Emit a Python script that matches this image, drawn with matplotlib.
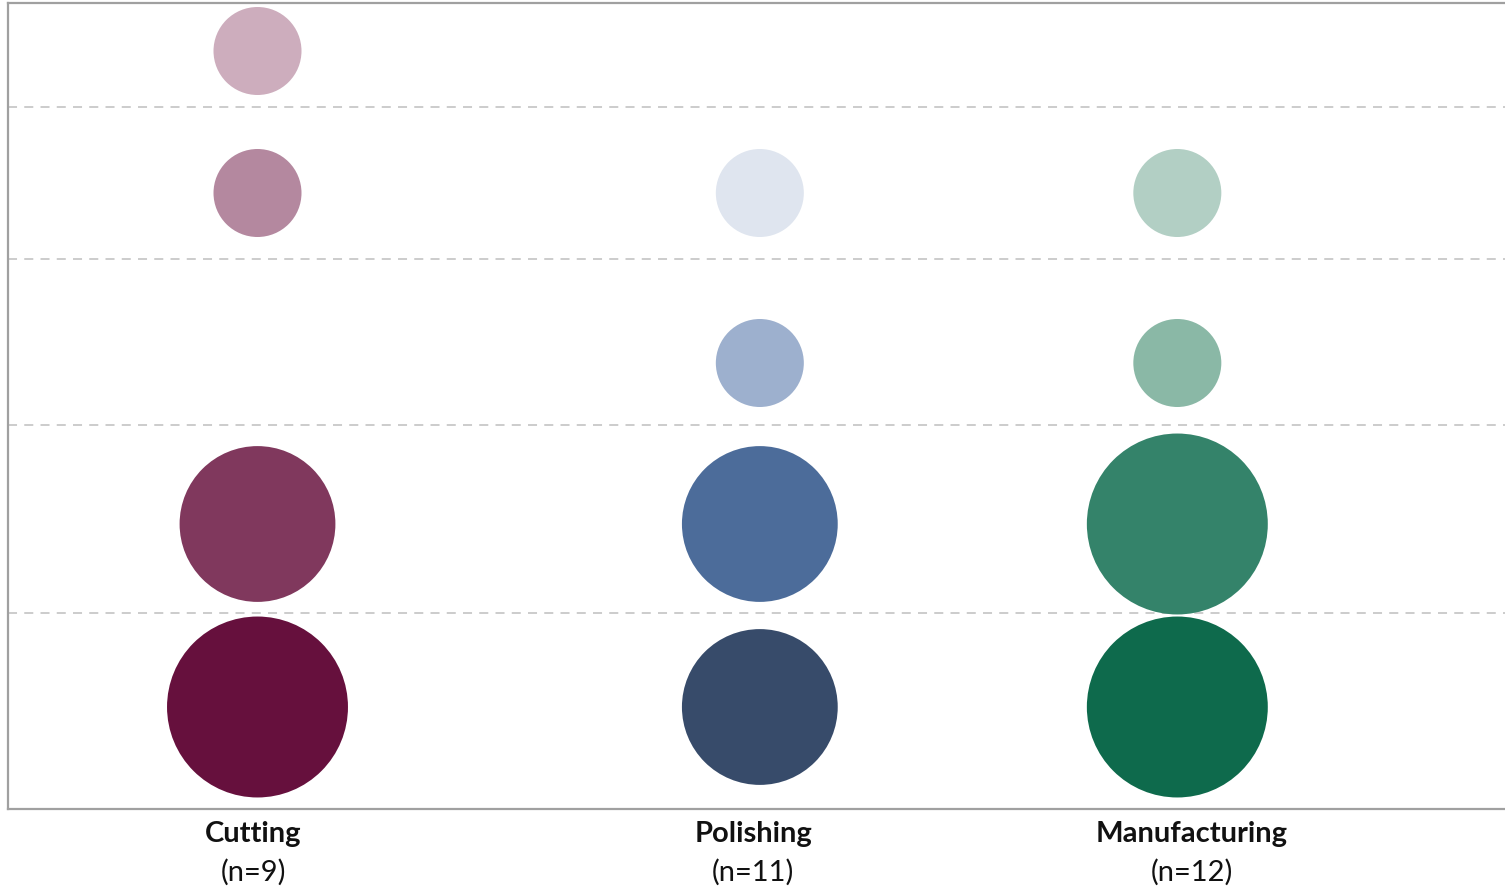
import matplotlib
matplotlib.use("Agg")
import matplotlib.pyplot as plt
import numpy as np

# Departments and their respondent counts
categories = ["Cutting", "Polishing", "Manufacturing"]
sample_sizes = [9, 11, 12]
x_positions = [1.5, 4.52, 7.03]
label_positions = [1.473, 4.479, 7.118]

# Row positions (bottom to top) and separating gridlines
row_levels = [1.02, 2.85, 4.46, 6.16, 7.58]
grid_levels = [1.96, 3.84, 5.50, 7.02]

# Bubble values per department, one per row (bottom to top); 0 = no bubble
cutting_values = [4, 3, 0, 1, 1]
polishing_values = [3, 3, 1, 1, 0]
manufacturing_values = [4, 4, 1, 1, 0]

cutting_colors = ["#66103D", "#80385D", "#A7788F", "#B4889F", "#CDADBD"]
polishing_colors = ["#374B6A", "#4C6C9A", "#9DB0CE", "#DFE5EF", "#EEF1F6"]
manufacturing_colors = ["#0E6A4C", "#34836A", "#8AB8A6", "#B2CFC4", "#D5E6DF"]

W, H, DPI = 1505, 889, 100
fig = plt.figure(figsize=(W / DPI, H / DPI), dpi=DPI)
ax = fig.add_axes([8 / W, (H - 809) / H, (W - 8) / W, 806 / H])

ax.set_xlim(0, 9)
ax.set_ylim(0, 8.06)

for g in grid_levels:
    ax.axhline(g, color="#C8C8C8", lw=1.3, dashes=(5, 4), zorder=1)

def diameter_px(v):
    return 88.0 * v ** 0.52

series = [cutting_values, polishing_values, manufacturing_values]
palettes = [cutting_colors, polishing_colors, manufacturing_colors]
for xp, vals, cols in zip(x_positions, series, palettes):
    for y, v, c in zip(row_levels, vals, cols):
        if v <= 0:
            continue
        d_pt = diameter_px(v) * 72.0 / DPI
        ax.scatter([xp], [y], s=d_pt ** 2, color=c, edgecolors="none", zorder=3)

ax.set_xticks([])
ax.set_yticks([])
for side in ["left", "top", "bottom"]:
    ax.spines[side].set_color("#A0A0A0")
    ax.spines[side].set_linewidth(1.6)
ax.spines["right"].set_visible(False)

font = ["Lato", "DejaVu Sans"]
for lx, name, n in zip(label_positions, categories, sample_sizes):
    xf = (8 + lx / 9 * (W - 8)) / W
    fig.text(xf, 1 - 834 / H, name, ha="center", va="center",
             fontsize=21, fontweight="bold", family=font, color="#111111")
    fig.text(xf, 1 - 872 / H, f"(n={n})", ha="center", va="center",
             fontsize=21, family=font, color="#111111")

fig.savefig("out.png", dpi=DPI)
